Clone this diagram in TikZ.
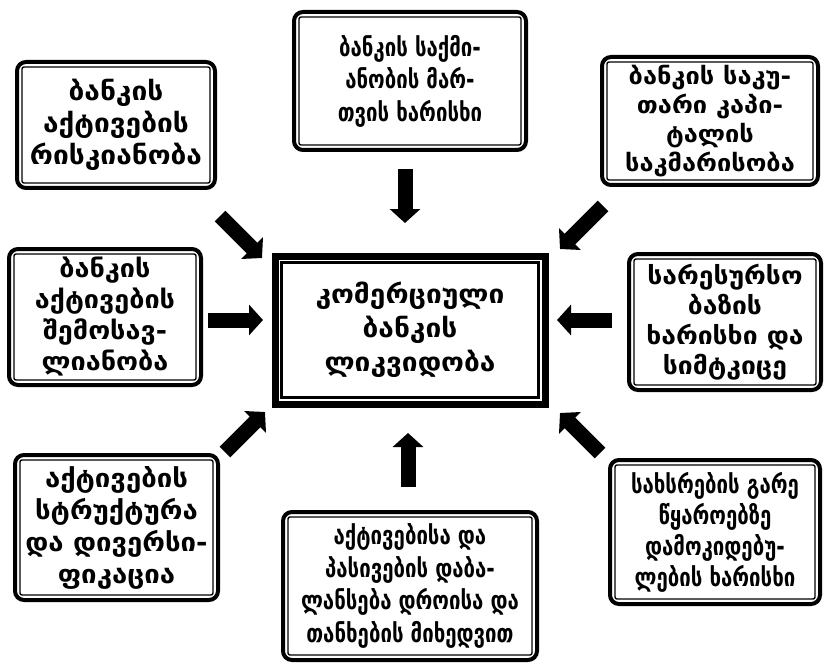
\documentclass[tikz,border=0pt]{standalone}
\usepackage{fontspec}
\newfontfamily\geo[FakeStretch=0.8]{DejaVu Sans}
\newfontfamily\geow[FakeStretch=1.08]{DejaVu Sans}
\usetikzlibrary{arrows.meta}
\tikzset{
  box/.style={draw, line width=4pt, rounded corners=9pt, align=center, inner sep=0pt,
    font=\geo\bfseries\fontsize{25.5}{32.5}\selectfont},
  wide/.style 2 args={font=\geow\bfseries\fontsize{#1}{#2}\selectfont},
  cbox/.style={draw, line width=7pt, align=center, inner sep=0pt,
    font=\geow\bfseries\fontsize{26}{34}\selectfont},
  inframe/.style={line width=1.4pt, rounded corners=2pt},
  blockarrow/.style={line width=15pt, -{Triangle[length=14pt,width=30pt]}}
}
\begin{document}
\begin{tikzpicture}[x=1pt,y=-1pt]
\useasboundingbox (0,0) rectangle (825,666);
\node[box, wide={26}{32}, minimum width=198pt, minimum height=126pt] (tl) at (116,125) {ბანკის\\აქტივების\\რისკიანობა};
\node[box, minimum width=232pt, minimum height=138pt] (tc) at (410,81) {ბანკის საქმი-\\ანობის მარ-\\თვის ხარისხი};
\node[box, wide={23.5}{29}, minimum width=216pt, minimum height=128pt] (tr) at (710,121) {ბანკის საკუ-\\თარი კაპი-\\ტალის\\საკმარისობა};
\node[box, wide={25}{31}, minimum width=192pt, minimum height=136pt] (ml) at (105,317) {ბანკის\\აქტივების\\შემოსავ-\\ლიანობა};
\node[cbox, minimum width=270pt, minimum height=148pt] (c) at (410,330) {კომერციული\\ბანკის\\ლიკვიდობა};
\node[box, wide={24.5}{30}, minimum width=192pt, minimum height=136pt] (mr) at (725,322) {სარესურსო\\ბაზის\\ხარისხი და\\სიმტკიცე};
\node[box, wide={25.5}{32}, minimum width=203pt, minimum height=145pt] (bl) at (116.5,527.5) {აქტივების\\სტრუქტურა\\და დივერსი-\\ფიკაცია};
\node[box, minimum width=254pt, minimum height=148pt] (bc) at (410,586) {აქტივებისა და\\პასივების დაბა-\\ლანსება დროისა და\\თანხების მიხედვით};
\node[box, minimum width=210pt, minimum height=144pt, font=\geo\bfseries\fontsize{25.5}{31}\selectfont] (br) at (715,532) {სახსრების გარე\\წყაროებზე\\დამოკიდებუ-\\ლების ხარისხი};
\foreach \n in {tl,tc,tr,ml,mr,bl,bc,br}
  \draw[inframe] ([shift={(7pt,-7pt)}]\n.north west) rectangle ([shift={(-7pt,7pt)}]\n.south east);
\draw[line width=2.5pt] ([shift={(10pt,-10pt)}]c.north west) rectangle ([shift={(-10pt,10pt)}]c.south east);
% arrow end points
\coordinate (atc1) at (405,169); \coordinate (atc2) at (405,223);
\coordinate (abc1) at (408,487); \coordinate (abc2) at (408,433);
\coordinate (aml1) at (208,320); \coordinate (aml2) at (263,320);
\coordinate (amr1) at (612,320); \coordinate (amr2) at (557,320);
\coordinate (atl1) at (220,216); \coordinate (atl2) at (262,258);
\coordinate (atr1) at (603,206); \coordinate (atr2) at (560,249);
\coordinate (abl1) at (225,452); \coordinate (abl2) at (265,412);
\coordinate (abr1) at (600,453); \coordinate (abr2) at (560,413);
\foreach \a in {tc,bc,ml,mr,tl,tr,bl,br}
  \draw[blockarrow] (a\a1) -- (a\a2);
\end{tikzpicture}
\end{document}
